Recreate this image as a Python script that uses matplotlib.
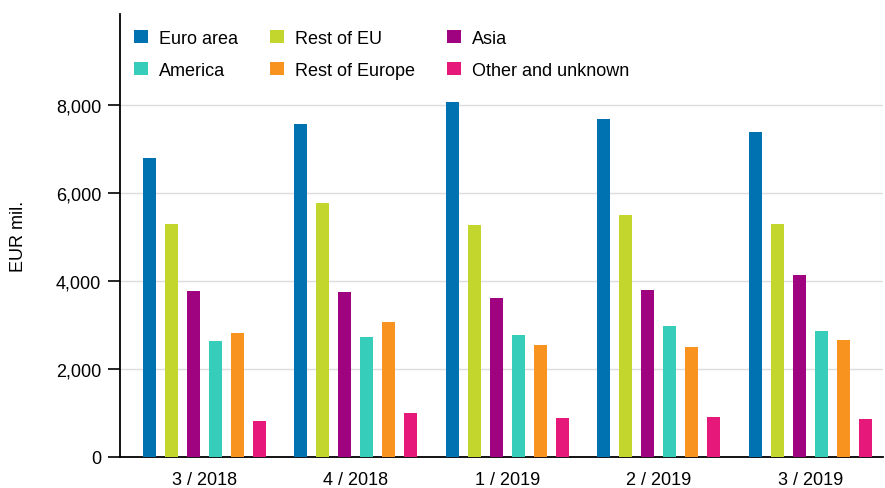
import matplotlib.pyplot as plt
import numpy as np

plt.rcParams['font.family'] = ['Liberation Sans', 'DejaVu Sans']

quarters = ['3 / 2018', '4 / 2018', '1 / 2019', '2 / 2019', '3 / 2019']
series = ['Euro area', 'Rest of EU', 'Asia', 'America', 'Rest of Europe', 'Other and unknown']
euro_area = [6790, 7570, 8070, 7680, 7390]
rest_of_eu = [5290, 5770, 5280, 5500, 5300]
asia = [3780, 3745, 3615, 3800, 4140]
america = [2645, 2720, 2770, 2975, 2865]
rest_of_europe = [2810, 3060, 2545, 2500, 2660]
other = [810, 990, 885, 905, 865]
values = [euro_area, rest_of_eu, asia, america, rest_of_europe, other]
colors = ['#0072B1', '#C2D62E', '#A0037F', '#36CEBA', '#F7931E', '#E6197A']

fs = 13

fig = plt.figure(figsize=(8.85, 4.89), dpi=100)
ax = fig.add_axes([0.1356, 0.0634, 0.862, 0.906])

x = np.arange(len(quarters))
step = 0.145
width = 0.086
bars = []
for i, (vals, col) in enumerate(zip(values, colors)):
    b = ax.bar(x + (i - 2.5) * step, vals, width, color=col, label=series[i], zorder=3)
    bars.append(b)

ax.set_xlim(-0.556, 4.48)
ax.set_ylim(0, 10070)
ax.set_yticks([0, 2000, 4000, 6000, 8000])
ax.set_yticklabels(['0', '2,000', '4,000', '6,000', '8,000'], fontsize=fs)
ax.set_xticks(x)
ax.set_xticklabels(quarters, fontsize=fs)
ax.tick_params(axis='x', length=0, pad=10)
ax.tick_params(axis='y', length=8.5, width=1.2, direction='out', pad=5)
ax.grid(axis='y', color='#dddddd', linewidth=1, zorder=0)
for s in ['top', 'right']:
    ax.spines[s].set_visible(False)
ax.spines['left'].set_linewidth(1.3)
ax.spines['bottom'].set_linewidth(1.3)
ax.set_ylabel('EUR mil.', fontsize=fs)
ax.yaxis.set_label_coords(-0.122, 0.5)

# column-wise fill: Euro/America, Rest EU/Rest Europe, Asia/Other
order = [0, 3, 1, 4, 2, 5]
ax.legend([bars[i] for i in order], [series[i] for i in order], ncol=3,
          loc='upper left', bbox_to_anchor=(0.0, 0.997), frameon=False,
          fontsize=fs, handlelength=0.75, handleheight=0.75, handletextpad=0.6,
          columnspacing=1.8, labelspacing=0.83, borderaxespad=0.4)

fig.savefig('out.png', dpi=100)
